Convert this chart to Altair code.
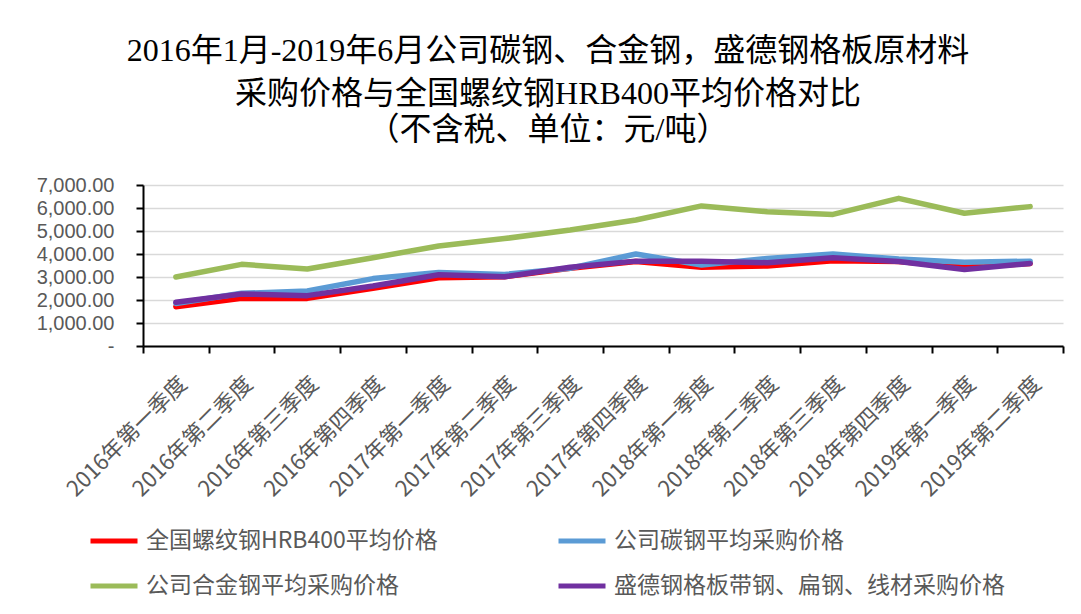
import altair as alt
import pandas as pd

quarters = ["2016年第一季度", "2016年第二季度", "2016年第三季度", "2016年第四季度",
            "2017年第一季度", "2017年第二季度", "2017年第三季度", "2017年第四季度",
            "2018年第一季度", "2018年第二季度", "2018年第三季度", "2018年第四季度",
            "2019年第一季度", "2019年第二季度"]

series_names = ["全国螺纹钢HRB400平均价格", "公司碳钢平均采购价格",
                "公司合金钢平均采购价格", "盛德钢格板带钢、扁钢、线材采购价格"]
series_colors = ["#FF0000", "#5B9BD5", "#9BBB59", "#7030A0"]
# legend fills column by column: left column red/green, right column blue/purple
legend_order = [series_names[0], series_names[2], series_names[1], series_names[3]]
legend_colors = [series_colors[0], series_colors[2], series_colors[1], series_colors[3]]

rebar = [1710, 2070, 2070, 2510, 2970, 3010, 3380, 3670, 3420, 3480, 3710, 3670, 3420, 3590]
carbon = [1850, 2290, 2390, 2930, 3200, 3110, 3380, 4000, 3520, 3810, 4000, 3780, 3640, 3690]
alloy = [3000, 3550, 3350, 3840, 4350, 4670, 5040, 5480, 6090, 5840, 5720, 6420, 5770, 6060]
grating = [1900, 2260, 2190, 2610, 3100, 3010, 3420, 3690, 3690, 3620, 3840, 3670, 3330, 3590]

values = [rebar, carbon, alloy, grating]
rows = []
for i, (s, vals) in enumerate(zip(series_names, values)):
    for q, v in zip(quarters, vals):
        rows.append({"series": s, "quarter": q, "value": v, "draw": i})
df = pd.DataFrame(rows)

title_lines = ["2016年1月-2019年6月公司碳钢、合金钢，盛德钢格板原材料",
               "采购价格与全国螺纹钢HRB400平均价格对比"]
subtitle_line = "（不含税、单位：元/吨）"

chart = alt.Chart(df).mark_line(strokeWidth=5.5, strokeCap="round", strokeJoin="round").encode(
    x=alt.X("quarter:N", sort=quarters, bandPosition=0.5,
            scale=alt.Scale(type="band", paddingInner=0, paddingOuter=0),
            axis=alt.Axis(title=None, labelAngle=-45, labelFontSize=22,
                          labelFont="Noto Sans CJK SC", labelColor="#595959",
                          tickBand="extent", domainColor="#000000", domainWidth=2,
                          tickColor="#000000", tickWidth=2, tickSize=7, labelPadding=20,
                          grid=False)),
    y=alt.Y("value:Q", scale=alt.Scale(domain=[0, 7000], nice=False),
            axis=alt.Axis(title=None, values=[0, 1000, 2000, 3000, 4000, 5000, 6000, 7000],
                          labelExpr="datum.value == 0 ? '-\u00a0\u00a0\u00a0' : format(datum.value, ',.2f')",
                          labelFontSize=20, labelFont="Liberation Sans", labelColor="#595959",
                          labelPadding=22, domainColor="#000000", domainWidth=2,
                          tickColor="#000000", tickWidth=2, tickSize=7,
                          gridColor="#D9D9D9", gridWidth=1.5)),
    color=alt.Color("series:N",
                    scale=alt.Scale(domain=legend_order, range=legend_colors),
                    legend=alt.Legend(title=None, orient="none", legendX=-55, legendY=330,
                                      columns=2, symbolType="stroke", symbolStrokeWidth=5,
                                      symbolSize=2209, labelFontSize=23,
                                      labelFont="Noto Sans CJK SC", labelColor="#595959",
                                      labelOffset=6, columnPadding=110, rowPadding=7,
                                      labelLimit=600)),
    order=alt.Order("draw:Q"),
).properties(
    width=920, height=161,
    autosize=alt.AutoSizeParams(type="none"),
    padding={"left": 135, "top": 177, "right": 10, "bottom": 260},
    title=alt.TitleParams(text=title_lines, fontSize=32, lineHeight=43,
                          font="Liberation Serif, Noto Sans CJK SC", fontWeight="normal",
                          color="#000000", anchor="middle", dx=-55, offset=28,
                          subtitle=subtitle_line, subtitleFontSize=32,
                          subtitleFont="Liberation Serif, Noto Sans CJK SC",
                          subtitleColor="#000000", subtitleFontWeight="normal",
                          subtitlePadding=4),
).configure_view(stroke=None)

chart.save("out.html", embed_options={"renderer": "svg", "actions": False})
